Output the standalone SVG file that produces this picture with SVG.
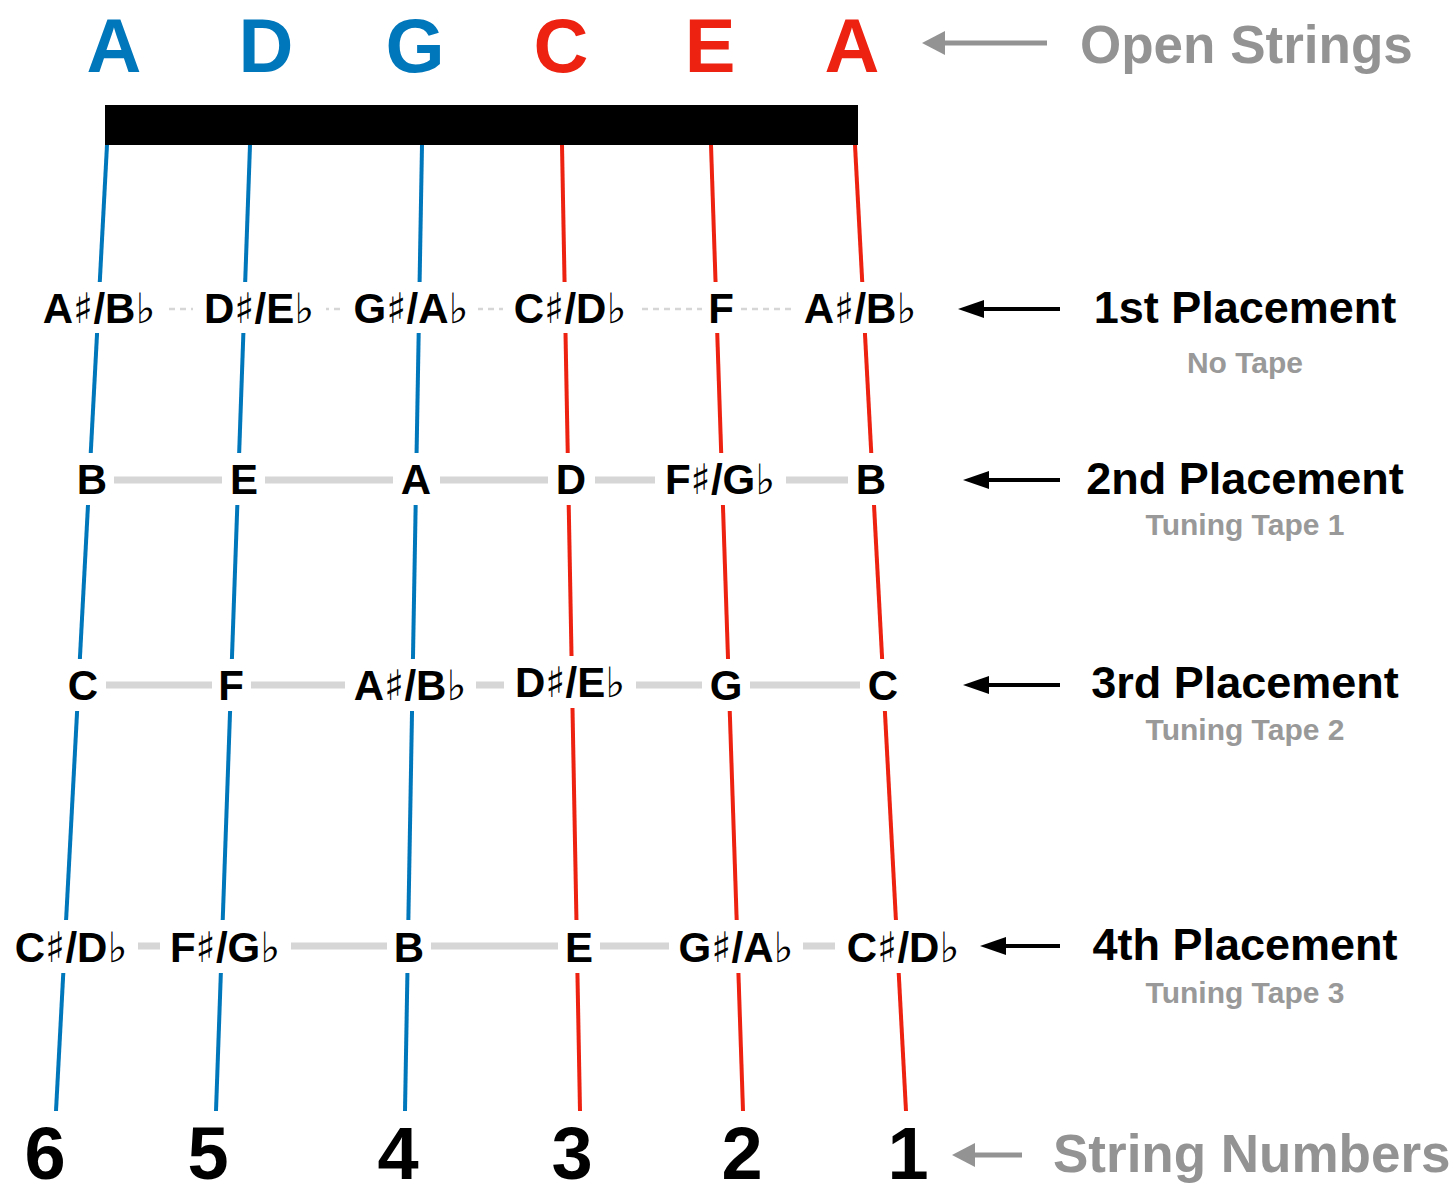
<svg xmlns="http://www.w3.org/2000/svg" width="1455" height="1187" viewBox="0 0 1455 1187">
<style>
.open{font-family:"Liberation Sans",Arial,sans-serif;font-weight:bold;font-size:76px;text-anchor:middle}
.blue{fill:#0077bb}.red{fill:#ee2211}
.sb{stroke:#0077bb;stroke-width:4;fill:none}.sr{stroke:#ee2211;stroke-width:4;fill:none}
.note{font-family:"Liberation Sans",Arial,sans-serif;font-weight:bold;font-size:42px;text-anchor:middle;fill:#000}
.acc{font-family:"DejaVu Sans",sans-serif;font-weight:normal}
.bg{fill:#fff}
.fret{stroke:#d6d6d6;stroke-width:7}
.dash{stroke:#d6d6d6;stroke-width:2.5;stroke-dasharray:6 5}
.place{font-family:"Liberation Sans",Arial,sans-serif;font-weight:bold;font-size:45px;text-anchor:middle;fill:#000}
.sub{font-family:"Liberation Sans",Arial,sans-serif;font-weight:bold;font-size:30px;text-anchor:middle;fill:#999}
.big{font-family:"Liberation Sans",Arial,sans-serif;font-weight:bold;font-size:53px;fill:#939393}
.num{font-family:"Liberation Sans",Arial,sans-serif;font-weight:bold;font-size:74px;text-anchor:middle;fill:#000}
.arrk{stroke:#000;stroke-width:4}
.arrg{stroke:#939393;stroke-width:5}
</style>

<g id="open-strings">
<text class="open blue" x="114" y="72">A</text>
<text class="open blue" x="266" y="72">D</text>
<text class="open blue" x="415" y="72">G</text>
<text class="open red" x="561" y="72">C</text>
<text class="open red" x="710" y="72">E</text>
<text class="open red" x="852" y="72">A</text>
</g>

<g id="nut"><rect x="105" y="105" width="753" height="40" fill="#000"/></g>

<g id="strings">
<line class="sb" x1="107" y1="145" x2="56" y2="1111"/>
<line class="sb" x1="250" y1="145" x2="216" y2="1111"/>
<line class="sb" x1="422" y1="145" x2="405" y2="1111"/>
<line class="sr" x1="562" y1="145" x2="580" y2="1111"/>
<line class="sr" x1="711" y1="145" x2="743" y2="1111"/>
<line class="sr" x1="855" y1="145" x2="906" y2="1111"/>
</g>

<g id="connectors">
<line class="dash" x1="158" y1="309" x2="802" y2="309"/>
<line class="fret" x1="106" y1="480" x2="856" y2="480"/>
<line class="fret" x1="98" y1="685" x2="868" y2="685"/>
<line class="fret" x1="130" y1="946" x2="843" y2="946"/>
<line class="arrk" x1="1060" y1="309" x2="984" y2="309"/>
<line class="arrk" x1="1060" y1="480" x2="989" y2="480"/>
<line class="arrk" x1="1060" y1="685" x2="989" y2="685"/>
<line class="arrk" x1="1060" y1="946" x2="1006" y2="946"/>
<path d="M958,309 L984,300 L984,318 Z" fill="#000"/>
<path d="M963,480 L989,471 L989,489 Z" fill="#000"/>
<path d="M963,685 L989,676 L989,694 Z" fill="#000"/>
<path d="M980,946 L1006,937 L1006,955 Z" fill="#000"/>
<line class="arrg" x1="1047" y1="43" x2="945" y2="43"/>
<path d="M922,43 L945,31 L945,55 Z" fill="#939393"/>
<line class="arrg" x1="1022" y1="1155" x2="975" y2="1155"/>
<path d="M952,1155 L975,1143 L975,1167 Z" fill="#939393"/>
</g>

<g id="row1">
<rect class="bg" x="33" y="282" width="133" height="51"/>
<rect class="bg" x="193" y="282" width="133" height="51"/>
<rect class="bg" x="344" y="282" width="134" height="51"/>
<rect class="bg" x="503" y="282" width="135" height="51"/>
<rect class="bg" x="702" y="282" width="39" height="51"/>
<rect class="bg" x="794" y="282" width="132" height="51"/>
<text class="note" x="99" y="323">A<tspan class="acc">♯</tspan>/B<tspan class="acc">♭</tspan></text>
<text class="note" x="259" y="323">D<tspan class="acc">♯</tspan>/E<tspan class="acc">♭</tspan></text>
<text class="note" x="411" y="323">G<tspan class="acc">♯</tspan>/A<tspan class="acc">♭</tspan></text>
<text class="note" x="570" y="323">C<tspan class="acc">♯</tspan>/D<tspan class="acc">♭</tspan></text>
<text class="note" x="721" y="323">F</text>
<text class="note" x="860" y="323">A<tspan class="acc">♯</tspan>/B<tspan class="acc">♭</tspan></text>
</g>

<g id="row2">
<rect class="bg" x="70" y="453" width="44" height="52"/>
<rect class="bg" x="222" y="453" width="43" height="52"/>
<rect class="bg" x="393" y="453" width="47" height="52"/>
<rect class="bg" x="548" y="453" width="47" height="52"/>
<rect class="bg" x="655" y="453" width="131" height="52"/>
<rect class="bg" x="848" y="453" width="46" height="52"/>
<text class="note" x="92" y="494">B</text>
<text class="note" x="244" y="494">E</text>
<text class="note" x="416" y="494">A</text>
<text class="note" x="571" y="494">D</text>
<text class="note" x="720" y="494">F<tspan class="acc">♯</tspan>/G<tspan class="acc">♭</tspan></text>
<text class="note" x="871" y="494">B</text>
</g>

<g id="row3">
<rect class="bg" x="60" y="659" width="46" height="52"/>
<rect class="bg" x="212" y="659" width="39" height="52"/>
<rect class="bg" x="345" y="659" width="131" height="52"/>
<rect class="bg" x="504" y="656" width="132" height="52"/>
<rect class="bg" x="702" y="659" width="48" height="52"/>
<rect class="bg" x="860" y="659" width="46" height="52"/>
<text class="note" x="83" y="700">C</text>
<text class="note" x="231" y="700">F</text>
<text class="note" x="410" y="700">A<tspan class="acc">♯</tspan>/B<tspan class="acc">♭</tspan></text>
<text class="note" x="570" y="697">D<tspan class="acc">♯</tspan>/E<tspan class="acc">♭</tspan></text>
<text class="note" x="726" y="700">G</text>
<text class="note" x="883" y="700">C</text>
</g>

<g id="row4">
<rect class="bg" x="4" y="920" width="134" height="53"/>
<rect class="bg" x="160" y="920" width="131" height="53"/>
<rect class="bg" x="387" y="920" width="44" height="53"/>
<rect class="bg" x="558" y="920" width="42" height="53"/>
<rect class="bg" x="669" y="920" width="134" height="53"/>
<rect class="bg" x="835" y="920" width="136" height="53"/>
<text class="note" x="71" y="962">C<tspan class="acc">♯</tspan>/D<tspan class="acc">♭</tspan></text>
<text class="note" x="225" y="962">F<tspan class="acc">♯</tspan>/G<tspan class="acc">♭</tspan></text>
<text class="note" x="409" y="962">B</text>
<text class="note" x="579" y="962">E</text>
<text class="note" x="736" y="962">G<tspan class="acc">♯</tspan>/A<tspan class="acc">♭</tspan></text>
<text class="note" x="903" y="962">C<tspan class="acc">♯</tspan>/D<tspan class="acc">♭</tspan></text>
</g>

<g id="labels">
<text class="big" x="1080" y="63">Open Strings</text>
<text class="place" x="1245" y="323">1st Placement</text>
<text class="sub" x="1245" y="373">No Tape</text>
<text class="place" x="1245" y="494">2nd Placement</text>
<text class="sub" x="1245" y="535">Tuning Tape 1</text>
<text class="place" x="1245" y="698">3rd Placement</text>
<text class="sub" x="1245" y="740">Tuning Tape 2</text>
<text class="place" x="1245" y="960">4th Placement</text>
<text class="sub" x="1245" y="1003">Tuning Tape 3</text>
<text class="big" x="1053" y="1172">String Numbers</text>
</g>

<g id="string-numbers">
<text class="num" x="45" y="1179">6</text>
<text class="num" x="208" y="1179">5</text>
<text class="num" x="398" y="1179">4</text>
<text class="num" x="572" y="1179">3</text>
<text class="num" x="742" y="1179">2</text>
<text class="num" x="908" y="1179">1</text>
</g>
</svg>
